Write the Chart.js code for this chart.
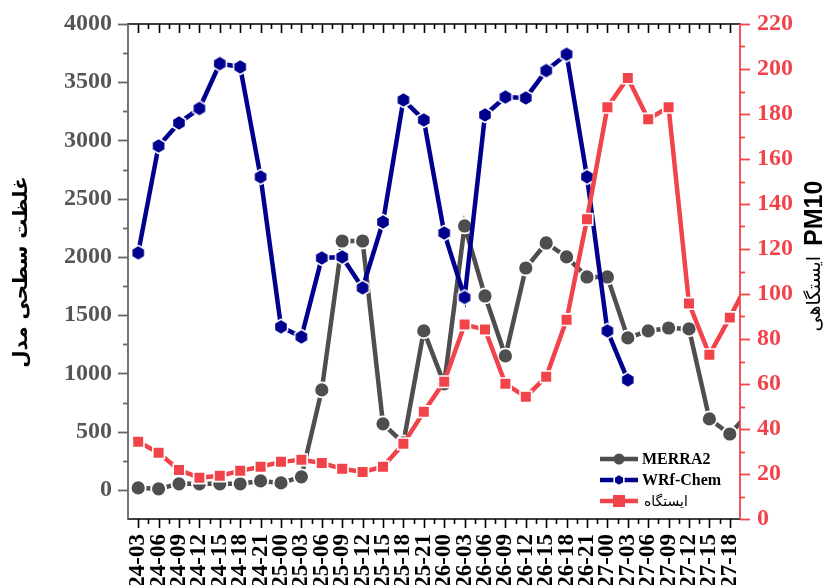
<!DOCTYPE html>
<html>
<head>
<meta charset="utf-8">
<script src="https://cdn.jsdelivr.net/npm/chart.js@4/dist/chart.umd.min.js"></script>
<style>
  html, body { margin: 0; padding: 0; background: #fff; overflow: hidden; }
  canvas { display: block; }
</style>
</head>
<body>
<canvas id="c" width="829" height="585"></canvas>
<script>
// Time steps (day-hour)
const timeLabels = ['24-03','24-06','24-09','24-12','24-15','24-18','24-21','25-00','25-03','25-06',
  '25-09','25-12','25-15','25-18','25-21','26-00','26-03','26-06','26-09','26-12',
  '26-15','26-18','26-21','27-00','27-03','27-06','27-09','27-12','27-15','27-18'];

// Model surface concentration (left axis)
const merra2 = [17, 9, 52, 52, 52, 52, 77, 60, 112, 858, 2137, 2137, 567, 403, 1365, 910, 2266, 1665,
  1150, 1905, 2120, 2000, 1828, 1828, 1305, 1365, 1390, 1382, 609, 480, 670];
const wrfChem = [2035, 2953, 3150, 3275, 3660, 3631, 2687, 1400, 1313, 1991, 2000, 1734, 2300, 3348,
  3176, 2206, 1652, 3219, 3373, 3365, 3600, 3740, 2688, 1365, 944];

// Station PM10 (right axis)
const station = [34.3, 29.4, 21.8, 18.3, 19.2, 21.4, 23.2, 25.4, 26.3, 24.9, 22.3, 20.9, 23.2, 33.4,
  47.7, 61, 86.4, 84.2, 60.1, 54.3, 63.2, 88.6, 133.2, 183, 196, 177.7, 183, 95.8, 73, 89.5, 107];

const leftTicks = [0, 500, 1000, 1500, 2000, 2500, 3000, 3500, 4000];
const rightTicks = [0, 20, 40, 60, 80, 100, 120, 140, 160, 180, 200, 220];

const seriesNames = ['MERRA2', 'WRf-Chem', 'ایستگاه'];
const leftTitle = 'غلظت سطحی مدل';
const rightTitleFa = 'ایستگاهی';
const rightTitleEn = 'PM10';

const GREY = '#4e4e4e';
const NAVY = '#00008f';
const RED = '#f1444a';
const SERIF = '"Liberation Serif", "Times New Roman", serif';
const ARABIC = '"DejaVu Sans", "Noto Sans", sans-serif';

function hexagonImage(r, fill) {
  const size = Math.ceil(2 * r + 6);
  const cv = document.createElement('canvas');
  cv.width = size; cv.height = size;
  const g = cv.getContext('2d');
  g.translate(size / 2, size / 2);
  g.beginPath();
  for (let k = 0; k < 6; k++) {
    const a = -Math.PI / 2 + k * Math.PI / 3;
    const px = r * Math.cos(a), py = r * Math.sin(a);
    k ? g.lineTo(px, py) : g.moveTo(px, py);
  }
  g.closePath();
  g.fillStyle = fill; g.fill();
  g.strokeStyle = '#fff'; g.lineWidth = 1.6; g.stroke();
  return cv;
}
const hexBig = hexagonImage(7.6, NAVY);
const hexSmall = hexagonImage(5.6, NAVY);

const toXY = arr => arr.map((v, i) => ({ x: i, y: v }));

function strokeLine(ctx, x1, y1, x2, y2) {
  ctx.beginPath(); ctx.moveTo(x1, y1); ctx.lineTo(x2, y2); ctx.stroke();
}

// Axis frame with major and minor tick marks
const axisFrame = {
  id: 'axisFrame',
  afterDatasetsDraw(chart) {
    const { ctx, chartArea: a, scales } = chart;
    const xs = scales.x, yl = scales.y, yr = scales.y1;
    ctx.save();
    ctx.lineCap = 'square';
    ctx.strokeStyle = '#000';
    ctx.lineWidth = 1.6;
    strokeLine(ctx, a.left, a.top, a.right, a.top);
    strokeLine(ctx, a.left, a.bottom, a.right, a.bottom);
    ctx.lineCap = 'butt';
    for (let i = 0; i < timeLabels.length; i++) {
      const cx = Math.round(xs.getPixelForValue(i)) + 0.5;
      strokeLine(ctx, cx, a.top, cx, a.top + 9);
      strokeLine(ctx, cx, a.bottom, cx, a.bottom + 9);
      const bx = Math.round(xs.getPixelForValue(i - 0.5)) + 0.5;
      if (i > 0) {
        strokeLine(ctx, bx, a.top, bx, a.top + 5);
        strokeLine(ctx, bx, a.bottom, bx, a.bottom + 5);
      }
    }
    // left axis
    ctx.strokeStyle = '#666';
    ctx.lineWidth = 1.8;
    strokeLine(ctx, a.left, a.top, a.left, a.bottom);
    for (let v = 0; v <= 4000; v += 250) {
      const py = Math.round(yl.getPixelForValue(v)) + 0.5;
      strokeLine(ctx, a.left, py, a.left - (v % 500 === 0 ? 10 : 5), py);
    }
    // right axis
    ctx.strokeStyle = RED;
    strokeLine(ctx, a.right, a.top, a.right, a.bottom);
    for (let v = 0; v <= 220; v += 10) {
      const py = Math.round(yr.getPixelForValue(v)) + 0.5;
      strokeLine(ctx, a.right, py, a.right + (v % 20 === 0 ? 10 : 5), py);
    }
    ctx.restore();
  }
};

// Legend: line sample with marker, then label
const legendBox = {
  id: 'legendBox',
  afterDraw(chart) {
    const { ctx } = chart;
    ctx.save();
    chart.data.datasets.forEach((ds, i) => {
      const y = 459 + i * 21;
      ctx.strokeStyle = ds.borderColor;
      ctx.lineWidth = 4.5;
      strokeLine(ctx, 600, y, 638, y);
      ctx.fillStyle = ds.borderColor;
      if (ds.pointStyle === 'circle') {
        ctx.beginPath(); ctx.arc(619, y, 5.5, 0, Math.PI * 2); ctx.fill();
      } else if (ds.pointStyle === 'rect') {
        ctx.fillRect(613, y - 6, 12, 12);
      } else {
        ctx.drawImage(hexSmall, 619 - hexSmall.width / 2, y - hexSmall.height / 2);
      }
      ctx.fillStyle = '#000';
      ctx.textBaseline = 'middle';
      ctx.textAlign = 'left';
      if (i < 2) {
        ctx.font = 'bold 16px ' + SERIF;
        ctx.fillText(ds.label, 642, y + 1);
      } else {
        ctx.font = '14px ' + ARABIC;
        ctx.fillText(ds.label, 644, y + 1);
      }
    });
    ctx.restore();
  }
};

// Axis titles, both reading bottom to top
const axisTitles = {
  id: 'axisTitles',
  afterDraw(chart) {
    const { ctx } = chart;
    ctx.save();
    ctx.fillStyle = '#000';
    ctx.textBaseline = 'middle';
    ctx.textAlign = 'center';
    ctx.translate(22, 272);
    ctx.rotate(-Math.PI / 2);
    ctx.font = 'bold 20px ' + ARABIC;
    ctx.fillText(leftTitle, 0, 0);
    ctx.restore();

    ctx.save();
    ctx.fillStyle = '#000';
    ctx.textBaseline = 'middle';
    ctx.textAlign = 'left';
    ctx.translate(815, 0);
    ctx.rotate(-Math.PI / 2);
    ctx.font = 'bold 25px "Liberation Sans", Arial, sans-serif';
    ctx.fillText(rightTitleEn, -246, 0);
    ctx.font = '19px ' + ARABIC;
    const w = ctx.measureText(rightTitleFa).width;
    ctx.fillText(rightTitleFa, -256 - w, 0);
    ctx.restore();
  }
};

new Chart(document.getElementById('c'), {
  type: 'line',
  data: {
    datasets: [
      {
        label: seriesNames[0], data: toXY(merra2), yAxisID: 'y', order: 3,
        borderColor: GREY, backgroundColor: GREY, borderWidth: 4.5,
        pointStyle: 'circle', pointRadius: 7.5, pointBackgroundColor: GREY,
        pointBorderColor: '#fff', pointBorderWidth: 1.8, clip: 0
      },
      {
        label: seriesNames[1], data: toXY(wrfChem), yAxisID: 'y', order: 2,
        borderColor: NAVY, backgroundColor: NAVY, borderWidth: 4.5,
        pointStyle: hexBig, pointRadius: 8, clip: 0
      },
      {
        label: seriesNames[2], data: toXY(station), yAxisID: 'y1', order: 1,
        borderColor: RED, backgroundColor: RED, borderWidth: 4.5,
        pointStyle: 'rect', pointRadius: 8.2, pointBackgroundColor: RED,
        pointBorderColor: '#fff', pointBorderWidth: 1.6, clip: 0
      }
    ]
  },
  options: {
    responsive: false,
    animation: false,
    devicePixelRatio: 1,
    layout: { padding: { top: 24, left: 0, right: 0, bottom: 0 } },
    plugins: { legend: { display: false }, tooltip: { enabled: false } },
    elements: { line: { tension: 0, borderCapStyle: 'butt' } },
    scales: {
      x: {
        type: 'linear', min: -0.5, max: timeLabels.length - 0.5,
        grid: { display: false, drawTicks: false }, border: { display: false },
        afterBuildTicks: s => { s.ticks = timeLabels.map((_, i) => ({ value: i })); },
        ticks: {
          autoSkip: false, minRotation: 90, maxRotation: 90, padding: 15, color: '#000',
          font: { family: SERIF, size: 23, weight: 'bold' },
          callback: v => timeLabels[v]
        },
        afterFit: s => { s.height = 66; s.paddingLeft = 0; s.paddingRight = 0; }
      },
      y: {
        position: 'left', min: -250, max: 4000,
        grid: { display: false, drawTicks: false }, border: { display: false },
        afterBuildTicks: s => { s.ticks = leftTicks.map(v => ({ value: v })); },
        ticks: {
          padding: 16, color: '#555', font: { family: SERIF, size: 24, weight: 'bold' },
          callback: v => String(v)
        },
        afterFit: s => { s.width = 128; s.paddingTop = 0; s.paddingBottom = 0; }
      },
      y1: {
        position: 'right', min: 0, max: 220,
        grid: { display: false, drawTicks: false }, border: { display: false },
        afterBuildTicks: s => { s.ticks = rightTicks.map(v => ({ value: v })); },
        ticks: {
          padding: 17, color: RED, font: { family: SERIF, size: 24, weight: 'bold' },
          callback: v => String(v)
        },
        afterFit: s => { s.width = 89; s.paddingTop = 0; s.paddingBottom = 0; }
      }
    }
  },
  plugins: [axisFrame, legendBox, axisTitles]
});
</script>
</body>
</html>
